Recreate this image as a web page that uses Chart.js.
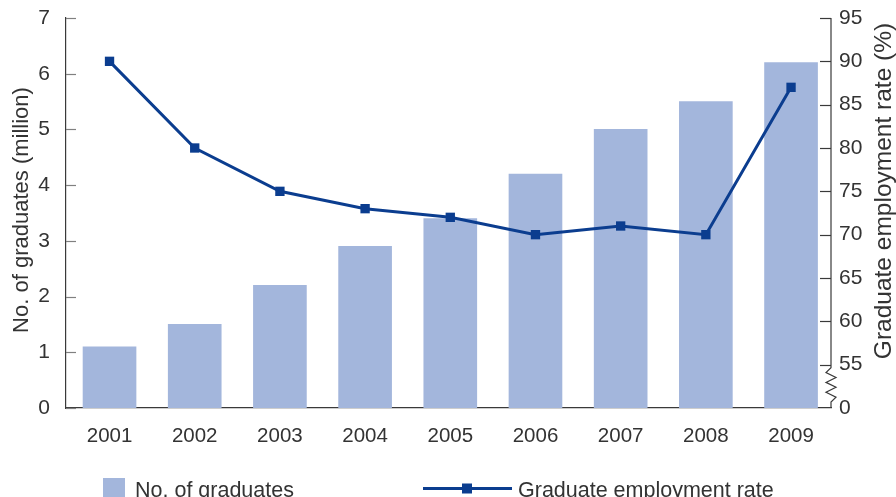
<!DOCTYPE html>
<html>
<head>
<meta charset="utf-8">
<script src="https://cdn.jsdelivr.net/npm/chart.js@4"></script>
<style>
  html, body { margin: 0; padding: 0; background: #ffffff; }
  #wrap { width: 896px; height: 497px; position: relative; overflow: hidden; }
  canvas { display: block; }
</style>
</head>
<body>
<div id="wrap"><canvas id="c" width="896" height="497"></canvas></div>
<script>
// ---- data ----
const years = [2001, 2002, 2003, 2004, 2005, 2006, 2007, 2008, 2009];
const graduates = [1.1, 1.5, 2.2, 2.9, 3.4, 4.2, 5.0, 5.5, 6.2];          // million
const employmentRate = [90, 80, 75, 73, 72, 70, 71, 70, 87];              // %
const leftTicks = [0, 1, 2, 3, 4, 5, 6, 7];
const rightTicks = [50, 55, 60, 65, 70, 75, 80, 85, 90, 95];              // 50 shown as "0" (axis break)
const rightTickLabels = ['0', '55', '60', '65', '70', '75', '80', '85', '90', '95'];
const leftTitle = 'No. of graduates (million)';
const rightTitle = 'Graduate employment rate (%)';
const barLabel = 'No. of graduates';
const lineLabel = 'Graduate employment rate';

// ---- style ----
const BAR_COLOR = '#a3b6dc';
const LINE_COLOR = '#0b3d8f';
const TEXT_COLOR = '#333333';
const AXIS_COLOR = '#3a3a3a';
const FONT = '"Liberation Sans", Arial, Helvetica, sans-serif';

const decorPlugin = {
  id: 'decor',
  afterDraw(chart) {
    const ctx = chart.ctx;
    const a = chart.chartArea;
    const y = chart.scales.y;
    const y2 = chart.scales.y2;
    ctx.save();
    // left ticks (inward)
    ctx.strokeStyle = '#808080';
    ctx.lineWidth = 1.2;
    leftTicks.forEach(v => {
      const py = Math.round(y.getPixelForValue(v)) + 0.5;
      ctx.beginPath(); ctx.moveTo(a.left, py); ctx.lineTo(a.left + 10, py); ctx.stroke();
    });
    // right ticks (inward)
    ctx.strokeStyle = AXIS_COLOR;
    rightTicks.forEach(v => {
      if (v === 50) return;
      const py = Math.round(y2.getPixelForValue(v)) + 0.5;
      ctx.beginPath(); ctx.moveTo(a.right - 11, py); ctx.lineTo(a.right, py); ctx.stroke();
    });
    // right axis line with break zigzag
    const rx = a.right;
    const b1 = y2.getPixelForValue(55) + 3;
    const b2 = a.bottom - 6;
    ctx.lineWidth = 1.2;
    ctx.beginPath();
    ctx.moveTo(rx, a.top);
    ctx.lineTo(rx, b1);
    const n = 6;
    const step = (b2 - b1) / (n + 1);
    for (let i = 1; i <= n; i++) {
      ctx.lineTo(rx + (i % 2 === 1 ? -5 : 5), b1 + step * i);
    }
    ctx.lineTo(rx, b2);
    ctx.lineTo(rx, a.bottom);
    ctx.stroke();

    // axis titles
    ctx.fillStyle = TEXT_COLOR;
    ctx.textAlign = 'center';
    ctx.textBaseline = 'middle';
    ctx.save();
    ctx.translate(22, 210);
    ctx.rotate(-Math.PI / 2);
    ctx.font = '22px ' + FONT;
    ctx.fillText(leftTitle, 0, 0);
    ctx.restore();
    ctx.save();
    ctx.translate(884, 191);
    ctx.rotate(-Math.PI / 2);
    ctx.font = '24.5px ' + FONT;
    ctx.fillText(rightTitle, 0, 0);
    ctx.restore();

    // legend
    ctx.font = '21.5px ' + FONT;
    ctx.textAlign = 'left';
    ctx.textBaseline = 'alphabetic';
    ctx.fillStyle = BAR_COLOR;
    ctx.fillRect(103, 478, 22, 22);
    ctx.fillStyle = TEXT_COLOR;
    ctx.fillText(barLabel, 135, 497);
    ctx.strokeStyle = LINE_COLOR;
    ctx.lineWidth = 3;
    ctx.beginPath(); ctx.moveTo(423, 488.5); ctx.lineTo(512, 488.5); ctx.stroke();
    ctx.fillStyle = LINE_COLOR;
    ctx.fillRect(462, 483.5, 10, 10);
    ctx.fillStyle = TEXT_COLOR;
    ctx.fillText(lineLabel, 518, 497);
    ctx.restore();
  }
};

function noVPad(s, w) {
  s.width = w;
  s.paddingTop = 0;
  s.paddingBottom = 0;
}

new Chart(document.getElementById('c'), {
  type: 'bar',
  data: {
    datasets: [
      {
        type: 'line',
        label: lineLabel,
        data: years.map((yr, i) => ({ x: yr, y: employmentRate[i] })),
        yAxisID: 'y2',
        borderColor: LINE_COLOR,
        backgroundColor: LINE_COLOR,
        borderWidth: 3,
        tension: 0,
        pointStyle: 'rect',
        pointRadius: 6.6,
        pointBorderWidth: 0,
        pointBackgroundColor: LINE_COLOR,
        order: 1
      },
      {
        type: 'bar',
        label: barLabel,
        data: years.map((yr, i) => ({ x: yr, y: graduates[i] })),
        yAxisID: 'y',
        backgroundColor: BAR_COLOR,
        borderWidth: 0,
        barThickness: 53,
        order: 2
      }
    ]
  },
  options: {
    responsive: false,
    animation: false,
    devicePixelRatio: 1,
    layout: { autoPadding: false, padding: { top: 18, left: 0, right: 0, bottom: 0 } },
    plugins: { legend: { display: false }, tooltip: { enabled: false } },
    scales: {
      x: {
        type: 'linear',
        position: 'bottom',
        offset: false,
        min: 2000.489,
        max: 2009.469,
        grid: { display: false, drawTicks: false, offset: false },
        border: { display: true, color: AXIS_COLOR, width: 1.2 },
        afterBuildTicks: s => { s.ticks = years.map(v => ({ value: v })); },
        afterFit: s => { s.height = 89; },
        ticks: {
          padding: 16,
          color: TEXT_COLOR,
          font: { family: FONT, size: 20.5 },
          callback: v => String(v),
          maxRotation: 0,
          autoSkip: false
        }
      },
      y: {
        position: 'left',
        min: 0,
        max: 7,
        grid: { display: false, drawTicks: false },
        border: { display: true, color: AXIS_COLOR, width: 1.2 },
        afterBuildTicks: s => { s.ticks = leftTicks.map(v => ({ value: v })); },
        afterFit: s => noVPad(s, 66),
        ticks: {
          padding: 16,
          color: TEXT_COLOR,
          font: { family: FONT, size: 21 },
          callback: v => String(v)
        }
      },
      y2: {
        position: 'right',
        min: 50,
        max: 95,
        grid: { display: false, drawTicks: false },
        border: { display: false },
        afterBuildTicks: s => { s.ticks = rightTicks.map(v => ({ value: v })); },
        afterFit: s => noVPad(s, 65),
        ticks: {
          padding: 8,
          color: TEXT_COLOR,
          font: { family: FONT, size: 21 },
          callback: v => rightTickLabels[rightTicks.indexOf(v)]
        }
      }
    }
  },
  plugins: [decorPlugin]
});
</script>
</body>
</html>
